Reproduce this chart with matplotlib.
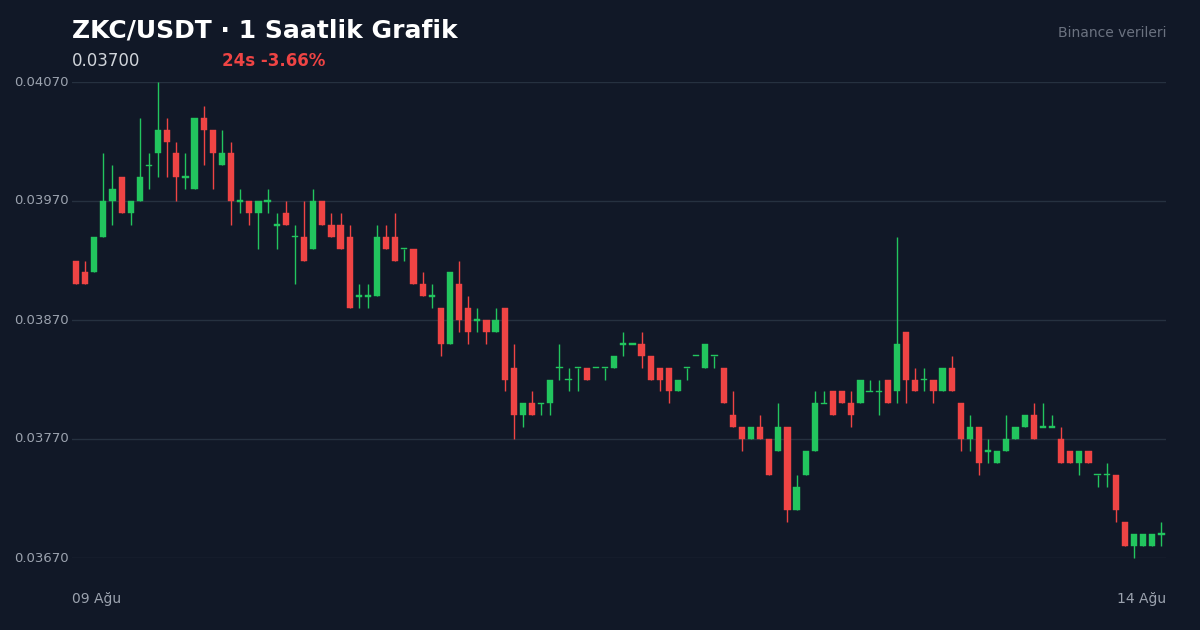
import matplotlib
matplotlib.use("Agg")
import matplotlib.pyplot as plt

opens = [0.03920,0.03910,0.03910,0.03940,0.03970,0.03990,0.03960,0.03970,0.04000,0.04010,0.04030,0.04010,0.03990,0.03980,0.04040,0.04030,0.04000,0.04010,0.03970,0.03970,
0.03960,0.03970,0.03950,0.03960,0.03940,0.03940,0.03930,0.03970,0.03950,0.03950,0.03940,0.03890,0.03890,0.03890,0.03940,0.03940,0.03930,0.03930,0.03900,0.03890,
0.03880,0.03850,0.03900,0.03880,0.03870,0.03870,0.03860,0.03880,0.03830,0.03790,0.03800,0.03800,0.03800,0.03830,0.03820,0.03830,0.03830,0.03830,0.03830,0.03830,
0.03850,0.03850,0.03850,0.03840,0.03830,0.03830,0.03810,0.03830,0.03840,0.03830,0.03840,0.03830,0.03790,0.03780,0.03770,0.03780,0.03770,0.03760,0.03780,0.03710,
0.03740,0.03760,0.03800,0.03810,0.03810,0.03800,0.03800,0.03810,0.03810,0.03820,0.03810,0.03860,0.03820,0.03820,0.03820,0.03810,0.03830,0.03800,0.03770,0.03780,
0.03760,0.03750,0.03760,0.03770,0.03780,0.03790,0.03780,0.03780,0.03770,0.03760,0.03750,0.03760,0.03740,0.03740,0.03740,0.03700,0.03680,0.03680,0.03680,0.03690]
closes = [0.03900,0.03900,0.03940,0.03970,0.03980,0.03960,0.03970,0.03990,0.04000,0.04030,0.04020,0.03990,0.03990,0.04040,0.04030,0.04010,0.04010,0.03970,0.03970,0.03960,
0.03970,0.03970,0.03950,0.03950,0.03940,0.03920,0.03970,0.03950,0.03940,0.03930,0.03880,0.03890,0.03890,0.03940,0.03930,0.03920,0.03930,0.03900,0.03890,0.03890,
0.03850,0.03910,0.03870,0.03860,0.03870,0.03860,0.03870,0.03820,0.03790,0.03800,0.03790,0.03800,0.03820,0.03830,0.03820,0.03830,0.03820,0.03830,0.03830,0.03840,
0.03850,0.03850,0.03840,0.03820,0.03820,0.03810,0.03820,0.03830,0.03840,0.03850,0.03840,0.03800,0.03780,0.03770,0.03780,0.03770,0.03740,0.03780,0.03710,0.03730,
0.03760,0.03800,0.03800,0.03790,0.03800,0.03790,0.03820,0.03810,0.03810,0.03800,0.03850,0.03820,0.03810,0.03820,0.03810,0.03830,0.03810,0.03770,0.03780,0.03750,
0.03760,0.03760,0.03770,0.03780,0.03790,0.03770,0.03780,0.03780,0.03750,0.03750,0.03760,0.03750,0.03740,0.03740,0.03710,0.03680,0.03690,0.03690,0.03690,0.03690]
highs = [0.03920,0.03920,0.03940,0.04010,0.04000,0.03990,0.03970,0.04040,0.04010,0.04070,0.04040,0.04020,0.04010,0.04040,0.04050,0.04030,0.04030,0.04020,0.03980,0.03970,
0.03970,0.03980,0.03960,0.03970,0.03950,0.03970,0.03980,0.03970,0.03960,0.03960,0.03950,0.03900,0.03900,0.03950,0.03950,0.03960,0.03930,0.03930,0.03910,0.03900,
0.03880,0.03910,0.03920,0.03890,0.03880,0.03870,0.03880,0.03880,0.03850,0.03800,0.03810,0.03800,0.03820,0.03850,0.03830,0.03830,0.03830,0.03830,0.03830,0.03840,
0.03860,0.03850,0.03860,0.03840,0.03830,0.03830,0.03820,0.03830,0.03840,0.03850,0.03840,0.03830,0.03810,0.03780,0.03780,0.03790,0.03770,0.03800,0.03780,0.03740,
0.03760,0.03810,0.03810,0.03810,0.03810,0.03810,0.03820,0.03820,0.03820,0.03820,0.03940,0.03860,0.03830,0.03830,0.03820,0.03830,0.03840,0.03800,0.03790,0.03780,
0.03770,0.03760,0.03790,0.03780,0.03790,0.03800,0.03800,0.03790,0.03780,0.03760,0.03760,0.03760,0.03740,0.03750,0.03740,0.03700,0.03690,0.03690,0.03690,0.03700]
lows = [0.03900,0.03900,0.03910,0.03940,0.03950,0.03960,0.03950,0.03970,0.03980,0.03990,0.03990,0.03970,0.03980,0.03980,0.04000,0.03980,0.04000,0.03950,0.03960,0.03950,
0.03930,0.03960,0.03930,0.03950,0.03900,0.03920,0.03930,0.03950,0.03940,0.03930,0.03880,0.03880,0.03880,0.03890,0.03930,0.03920,0.03920,0.03900,0.03890,0.03880,
0.03840,0.03850,0.03860,0.03850,0.03860,0.03850,0.03860,0.03810,0.03770,0.03780,0.03790,0.03790,0.03790,0.03820,0.03810,0.03810,0.03820,0.03830,0.03820,0.03830,
0.03840,0.03850,0.03830,0.03820,0.03810,0.03800,0.03810,0.03820,0.03840,0.03830,0.03830,0.03800,0.03780,0.03760,0.03770,0.03770,0.03740,0.03760,0.03700,0.03710,
0.03740,0.03760,0.03800,0.03790,0.03800,0.03780,0.03800,0.03810,0.03790,0.03800,0.03800,0.03800,0.03810,0.03810,0.03800,0.03810,0.03810,0.03760,0.03760,0.03740,
0.03750,0.03750,0.03760,0.03770,0.03780,0.03770,0.03780,0.03780,0.03750,0.03750,0.03740,0.03750,0.03730,0.03730,0.03700,0.03680,0.03670,0.03680,0.03680,0.03680]

yticks = [0.03670, 0.03770, 0.03870, 0.03970, 0.04070]
ytick_labels = ["0.03670", "0.03770", "0.03870", "0.03970", "0.04070"]
x_labels = ["09 Ağu", "14 Ağu"]

BG = "#111827"
GREEN = "#22c55e"
RED = "#ef4444"
W, H = 1200, 630

fig = plt.figure(figsize=(12, 6.3), dpi=100, facecolor=BG)
ax = fig.add_axes([72 / W, 1 - 558 / H, (1166 - 72) / W, (558 - 82) / H])
ax.set_facecolor(BG)
n = len(opens)
ax.set_xlim(-0.44, 119.5)
ax.set_ylim(yticks[0], yticks[-1])
for s in ax.spines.values():
    s.set_visible(False)
ax.set_xticks([])
ax.set_yticks(yticks)
ax.tick_params(axis="y", length=0, labelleft=False)
ax.grid(axis="y", color="#263140", linewidth=1)
ax.set_axisbelow(True)

mind = 0.000012
for i in range(n):
    o, c, h, l = opens[i], closes[i], highs[i], lows[i]
    col = GREEN if c >= o else RED
    ax.vlines(i, l, h, color=col, linewidth=1, clip_on=False, zorder=2)
    bottom = min(o, c)
    height = max(abs(c - o), mind)
    if abs(c - o) < 1e-9:
        bottom = o - mind / 2
    ax.bar(i, height, bottom=bottom, width=0.68, color=col, edgecolor=col, linewidth=0.3, zorder=3, clip_on=False)

for v, lab in zip(yticks, ytick_labels):
    ax.text(-0.0525, v, lab, transform=ax.get_yaxis_transform(), ha="left", va="center",
            fontsize=9.5, color="#9ca3af")
    # label placed in figure pixels
for t in ax.texts:
    pass

fig.text(72 / W, 1 - 599 / H, x_labels[0], ha="left", va="center", fontsize=10, color="#9ca3af")
fig.text(1166 / W, 1 - 599 / H, x_labels[1], ha="right", va="center", fontsize=10, color="#9ca3af")

fig.text(72 / W, 1 - 30 / H, "ZKC/USDT · 1 Saatlik Grafik", ha="left", va="center", fontsize=18,
         fontweight="bold", color="white")
fig.text(72 / W, 1 - 61 / H, "0.03700", ha="left", va="center", fontsize=12, color="#d1d5db")
fig.text(222 / W, 1 - 61 / H, "24s -3.66%", ha="left", va="center", fontsize=12, fontweight="bold", color=RED)
fig.text(1166 / W, 1 - 33 / H, "Binance verileri", ha="right", va="center", fontsize=10, color="#6b7280")

fig.savefig("out.png", dpi=100, facecolor=BG)
